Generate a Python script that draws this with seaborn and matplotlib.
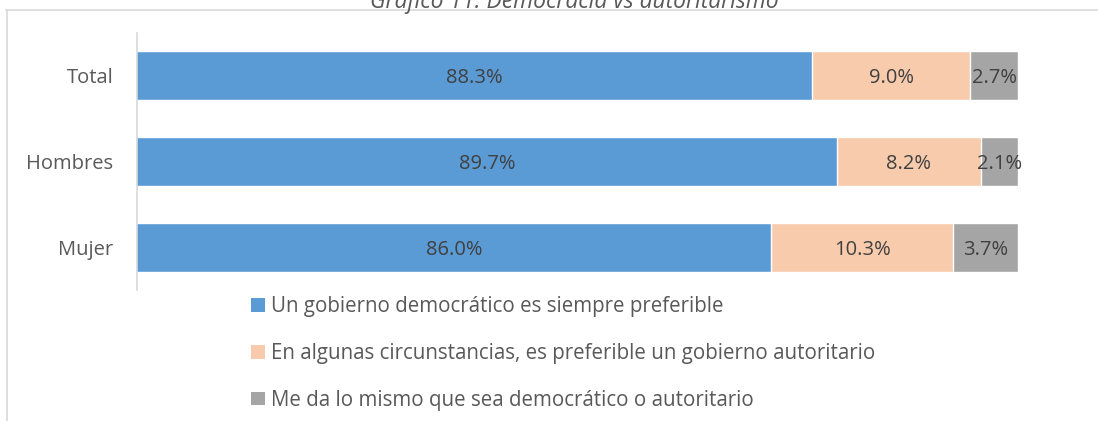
import numpy as np
import pandas as pd
import matplotlib
matplotlib.use("Agg")
import matplotlib.pyplot as plt
import seaborn as sns
from matplotlib.lines import Line2D
from matplotlib.patches import Patch

categories = ["Total", "Hombres", "Mujer"]
democratico = [88.3, 89.7, 86.0]
autoritario = [9.0, 8.2, 10.3]
mismo = [2.7, 2.1, 3.7]
series_names = [
    "Un gobierno democrático es siempre preferible",
    "En algunas circunstancias, es preferible un gobierno autoritario",
    "Me da lo mismo que sea democrático o autoritario",
]
colors = ["#5B9BD5", "#F8CBAD", "#A5A5A5"]
title = "Gráfico 11. Democracia vs autoritarismo"

sns.set_theme(style="white")
plt.rcParams["font.family"] = ["Open Sans", "DejaVu Sans"]

series = [democratico, autoritario, mismo]
cum = np.cumsum(np.array(series), axis=0)

fig = plt.figure(figsize=(10.98, 4.21), dpi=100)
ax = fig.add_axes([137 / 1098, 1 - 290 / 421, (1018 - 137) / 1098, (290 - 33) / 421])

# draw largest cumulative first so smaller overlay
for i in reversed(range(3)):
    df = pd.DataFrame({"cat": categories, "val": cum[i]})
    sns.barplot(data=df, x="val", y="cat", orient="h", color=colors[i],
                width=0.57, edgecolor="white", linewidth=1.0, ax=ax,
                saturation=1, order=categories)

ax.set_xlim(50, 100)
ax.set_ylim(2.5, -0.5)
ax.set_xlabel("")
ax.set_ylabel("")
ax.set_xticks([])
ax.tick_params(axis="y", length=0, pad=17, labelsize=14.5, labelcolor="#595959")
for s in ["top", "right", "bottom"]:
    ax.spines[s].set_visible(False)
ax.spines["left"].set_color("#D9D9D9")
ax.spines["left"].set_linewidth(1.2)

# data labels centered in segments
for i in range(3):
    starts = cum[i] - np.array(series[i])
    for j, cat in enumerate(categories):
        left = max(starts[j], 50)
        center = (left + cum[i][j]) / 2
        ax.text(center, j, f"{series[i][j]:.1f}%", ha="center", va="center_baseline",
                fontsize=14.5, color="#404040")

handles = [Patch(facecolor=c, edgecolor="none") for c in colors]
fig.legend(handles, series_names, loc="upper left",
           bbox_to_anchor=(243 / 1098, 1 - 288 / 421), frameon=False,
           fontsize=14.8, labelcolor="#595959", handlelength=0.65,
           handleheight=0.65, handletextpad=0.3, labelspacing=1.25,
           borderaxespad=0)

# outer frame lines
fig.add_artist(Line2D([6 / 1098, 1.0], [1 - 10 / 421, 1 - 10 / 421],
                      transform=fig.transFigure, color="#D9D9D9", lw=1.2))
fig.add_artist(Line2D([7 / 1098, 7 / 1098], [0, 1 - 10 / 421],
                      transform=fig.transFigure, color="#D9D9D9", lw=1.2))

fig.text(574 / 1098, 1 - 2 / 421, title, ha="center", va="center",
         fontsize=16.5, style="italic", color="#595959")

fig.savefig("out.png", dpi=100)
